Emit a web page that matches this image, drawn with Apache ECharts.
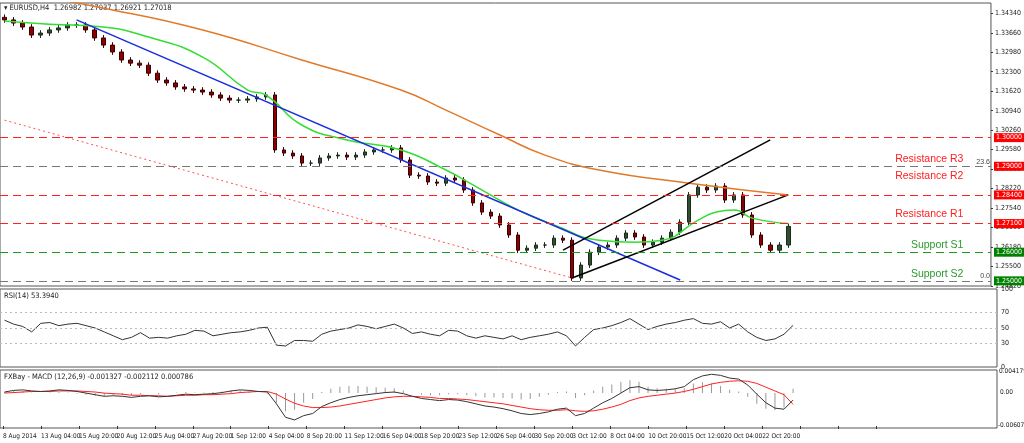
<!DOCTYPE html>
<html><head><meta charset="utf-8">
<script src="https://cdn.jsdelivr.net/npm/echarts@6/dist/echarts.min.js"></script>
<style>html,body{margin:0;padding:0;background:#fff}#c{width:1024px;height:443px}</style>
</head><body><div id="c"></div>
<script>
const closes=[1.3411,1.3400,1.3386,1.3358,1.3365,1.3376,1.3383,1.3393,1.3393,1.3376,1.3348,1.3323,1.3299,1.3271,1.3260,1.3253,1.3225,1.3201,1.3191,1.3177,1.3170,1.3166,1.3159,1.3149,1.3138,1.3131,1.3131,1.3135,1.3142,1.3149,1.2957,1.2946,1.2936,1.2911,1.2911,1.2929,1.2936,1.2939,1.2932,1.2939,1.2950,1.2957,1.2957,1.2964,1.2922,1.2869,1.2866,1.2845,1.2841,1.2859,1.2852,1.2817,1.2772,1.2740,1.2726,1.2695,1.2660,1.2607,1.2614,1.2625,1.2625,1.2649,1.2642,1.2510,1.2555,1.2600,1.2618,1.2625,1.2649,1.2667,1.2653,1.2625,1.2635,1.2649,1.2670,1.2705,1.2800,1.2827,1.2817,1.2831,1.2782,1.2800,1.2730,1.2660,1.2625,1.2607,1.2625,1.2690];
const firstOpen=1.3420;
const maFast=[[0,1.3407],[5,1.3396],[11,1.3386],[16,1.3351],[22,1.3281],[27,1.3166],[29,1.3149],[33,1.3044],[38,1.2992],[44,1.2957],[49,1.2887],[52,1.2835],[57,1.2747],[61,1.2695],[66,1.2642],[70,1.2635],[73,1.2642],[77,1.2712],[79,1.2740],[81,1.2747],[83,1.2719],[87,1.2700]];
const maSlow=[[0,1.3515],[11,1.3452],[22,1.3376],[33,1.3271],[44,1.3166],[49,1.3096],[55,1.3009],[60,1.2939],[66,1.2887],[76,1.2841],[87,1.2800]];
const rsi=[60,55,52,45,56,57,53,55,56,53,50,45,40,35,38,44,37,38,37,40,42,47,46,40,42,44,45,47,50,51,28,27,34,34,33,42,46,48,50,54,52,49,52,55,50,43,45,42,40,47,46,40,37,40,38,36,40,35,38,40,42,45,40,27,38,48,50,53,57,62,55,48,52,55,57,60,62,56,55,58,50,55,45,38,34,36,42,53.4];
const macd=[0.2,0.5,0.6,0.4,0.3,0.4,0.6,0.5,0.3,0.0,-0.3,-0.6,-0.5,-0.6,-0.8,-0.6,-0.5,-0.7,-0.6,-0.4,-0.2,-0.3,-0.2,-0.1,0.1,0.4,0.6,0.5,0.3,0.2,-2.0,-4.5,-5.0,-4.2,-3.8,-2.5,-1.8,-1.2,-0.8,-0.5,-0.3,-0.1,0.1,0.2,-0.1,-0.6,-1.0,-1.2,-1.4,-1.2,-1.3,-1.6,-2.0,-2.4,-2.6,-2.9,-3.3,-3.8,-4.0,-3.8,-3.5,-3.0,-2.8,-4.2,-3.8,-2.8,-1.8,-1.0,0.0,1.0,1.2,0.6,0.5,0.6,0.8,1.2,2.5,3.2,3.5,3.3,2.8,2.6,1.5,-0.2,-1.8,-2.8,-3.0,-1.3];
const signal=[0.0,0.1,0.2,0.3,0.3,0.3,0.4,0.4,0.4,0.3,0.2,0.0,-0.1,-0.2,-0.4,-0.4,-0.5,-0.5,-0.6,-0.5,-0.4,-0.4,-0.3,-0.3,-0.2,-0.1,0.1,0.2,0.3,0.3,-0.2,-1.1,-1.9,-2.4,-2.7,-2.7,-2.6,-2.4,-2.1,-1.8,-1.5,-1.2,-0.9,-0.7,-0.6,-0.6,-0.7,-0.8,-1.0,-1.0,-1.1,-1.2,-1.4,-1.6,-1.8,-2.0,-2.3,-2.6,-2.9,-3.1,-3.2,-3.2,-3.1,-3.3,-3.4,-3.3,-3.0,-2.6,-2.1,-1.4,-0.9,-0.6,-0.4,-0.2,0.0,0.3,0.7,1.2,1.7,2.0,2.2,2.3,2.2,1.8,1.1,0.4,-0.3,-2.1];
const dateLabels=['8 Aug 2014','13 Aug 04:00','15 Aug 20:00','20 Aug 12:00','25 Aug 04:00','27 Aug 20:00','1 Sep 12:00','4 Sep 04:00','8 Sep 20:00','11 Sep 12:00','16 Sep 04:00','18 Sep 20:00','23 Sep 12:00','26 Sep 04:00','30 Sep 20:00','3 Oct 12:00','8 Oct 04:00','10 Oct 20:00','15 Oct 12:00','20 Oct 04:00','22 Oct 20:00','','',''];
const levels=[{v:1.3000,c:'#ff2020',t:''},{v:1.2900,c:'#ff2020',t:'Resistance R3'},{v:1.2840,c:'#ff2020',t:'Resistance R2'},{v:1.2710,c:'#ff2020',t:'Resistance R1'},{v:1.2600,c:'#1a9a1a',t:'Support S1'},{v:1.2500,c:'#1a9a1a',t:'Support S2'}];
const fibLines=[{v:1.2852,t:'23.6'},{v:1.2503,t:'0.0'}];
const blueLine=[[8,1.3411],[75,1.2503]];
const chLower=[[63,1.2510],[87,1.2800]];
const chUpper=[[62,1.2607],[85,1.2992]];
const redDotted=[[0,1.3061],[63,1.2510]];

const N=110, cats=[...Array(N).keys()].map(String);
const candles=closes.map((c,i)=>{const o=i?closes[i-1]:firstOpen;return [o,c,Math.min(o,c)-0.0010,Math.max(o,c)+0.0010];});
const hist=macd.map((m,i)=>+(m-signal[i]).toFixed(2)*1e-3);
const font='"DejaVu Sans Condensed", Tahoma, sans-serif';
const ax={fontSize:7,color:'#222',fontFamily:font};
const ml=[];levels.forEach(l=>ml.push({yAxis:l.v,lineStyle:{color:l.c,type:[8,5],width:1},label:{show:true,position:'end',formatter:l.v.toFixed(5),backgroundColor:l.c==='#ff2020'?'#ff0000':'#008000',color:'#fff',fontSize:7,fontFamily:font,padding:[1,2],distance:3}}));
fibLines.forEach(f=>ml.push({yAxis:f.v,lineStyle:{color:'#777',type:[8,5],width:1},label:{show:true,position:'insideEndTop',formatter:f.t,color:'#444',fontSize:7,distance:1}}));
const mp=levels.filter(l=>l.t).map(l=>({coord:[107,l.v],label:{show:true,formatter:l.t,position:'left',offset:[0,-7],color:l.c==='#ff2020'?'#ff2020':'#2a9a2a',fontSize:10.5,fontFamily:'"Liberation Sans",Arial'}}));
const seg=(d,col,w,t)=>({type:'line',data:d,xAxisIndex:0,yAxisIndex:0,symbol:'none',lineStyle:{color:col,width:w,type:t||'solid'},silent:true,z:3});
const opt={animation:false,
grid:[{left:0,right:27,top:3,height:283,show:true,borderColor:'#555',borderWidth:1},
{left:0,right:27,top:289,height:78,show:true,borderColor:'#555'},
{left:0,right:27,top:370,height:58,show:true,borderColor:'#555'},
{left:2,top:428,width:874,height:1}],
xAxis:[{type:'category',data:cats,gridIndex:0,show:false},{type:'category',data:cats,gridIndex:1,show:false},{type:'category',data:cats,gridIndex:2,show:false},
{type:'category',data:dateLabels,gridIndex:3,boundaryGap:false,axisLine:{show:false},axisTick:{show:true,inside:true,length:3,lineStyle:{color:'#333'}},axisLabel:{...ax,fontSize:6.5,align:'left',margin:4,interval:0}}],
yAxis:[{type:'value',gridIndex:0,position:'right',min:1.2482,max:1.3470,interval:0.0068,splitLine:{show:false},axisLine:{show:false},axisTick:{show:true,length:2,lineStyle:{color:'#333'}},axisLabel:{...ax,margin:4,formatter:v=>v.toFixed(5),showMaxLabel:false}},
{type:'value',gridIndex:1,position:'right',min:0,max:100,interval:10,splitLine:{show:false},axisLine:{show:false},axisTick:{show:false},axisLabel:{...ax,margin:4,formatter:v=>[0,30,50,70,100].includes(v)?String(v):''}},
{type:'value',gridIndex:2,position:'right',min:-0.0065,max:0.0043,splitLine:{show:false},axisLine:{show:false},axisTick:{show:false},axisLabel:{show:false}},
{type:'value',gridIndex:3,show:false}],
series:[
{type:'candlestick',data:candles,xAxisIndex:0,yAxisIndex:0,barWidth:4,itemStyle:{color:'#2f4f2f',color0:'#8b0000',borderColor:'#1a2a1a',borderColor0:'#3a0000'},
 markLine:{symbol:'none',silent:true,data:ml},markPoint:{symbol:'circle',symbolSize:0,data:mp}},
{type:'line',data:maSlow,smooth:true,symbol:'none',lineStyle:{color:'#e07a2a',width:1.5},z:3},
{type:'line',data:maFast,smooth:true,symbol:'none',lineStyle:{color:'#33dd33',width:1.5},z:3},
seg(blueLine,'#1a2ee0',1.5),seg(chLower,'#000',1.5),seg(chUpper,'#000',1.5),seg(redDotted,'#ff5050',1,[2,3]),
{type:'line',data:rsi,xAxisIndex:1,yAxisIndex:1,symbol:'none',lineStyle:{color:'#333',width:1},
 markLine:{symbol:'none',silent:true,label:{show:false},lineStyle:{color:'#bbb',type:[2,3],width:1},data:[{yAxis:30},{yAxis:50},{yAxis:70}]}},
{type:'bar',data:hist,xAxisIndex:2,yAxisIndex:2,barWidth:1,itemStyle:{color:'#999'}},
{type:'line',data:signal.map(v=>v*1e-3),xAxisIndex:2,yAxisIndex:2,symbol:'none',lineStyle:{color:'#ff2020',width:1}},
{type:'line',data:macd.map(v=>v*1e-3),xAxisIndex:2,yAxisIndex:2,symbol:'none',lineStyle:{color:'#333',width:1}}],
graphic:[
{type:'text',left:4,top:4,style:{text:'▾ EURUSD,H4  1.26982 1.27037 1.26921 1.27018',fontSize:7.5,fill:'#222',fontFamily:font}},
{type:'text',left:4,top:292,style:{text:'RSI(14) 53.3940',fontSize:7.5,fill:'#222',fontFamily:font}},
{type:'text',left:4,top:373,style:{text:'FXBay - MACD (12,26,9) -0.001327 -0.002112 0.000786',fontSize:7.5,fill:'#222',fontFamily:font}},
{type:'text',left:999,top:368,style:{text:'0.004179',fontSize:6.5,fill:'#222',fontFamily:font}},
{type:'text',left:1000,top:389,style:{text:'0.00',fontSize:6.5,fill:'#222',fontFamily:font}},
{type:'text',left:998,top:422,style:{text:'-0.00607',fontSize:6.5,fill:'#222',fontFamily:font}}]};
echarts.init(document.getElementById('c')).setOption(opt);
</script></body></html>
